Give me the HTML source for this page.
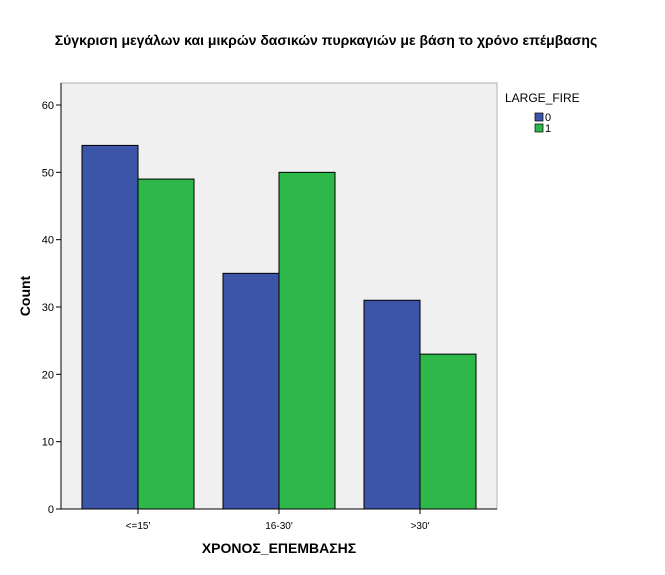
<!DOCTYPE html>
<html><head><meta charset="utf-8"><style>
body{margin:0;background:#fff;font-family:"Liberation Sans",sans-serif;}
svg text{font-family:"Liberation Sans",sans-serif;}
</style></head><body>
<svg width="665" height="570" id="c">
<rect x="0" y="0" width="665" height="570" fill="#fff"/>
<text x="326" y="45" font-size="14" font-weight="bold" text-anchor="middle" fill="#000">Σύγκριση μεγάλων και μικρών δασικών πυρκαγιών με βάση το χρόνο επέμβασης</text>
<rect x="61" y="83" width="436" height="426" fill="#f0f0f0" stroke="#b0b0b0"/>
<g id="bars"></g>
<line x1="61" y1="83" x2="61" y2="509" stroke="#000"/>
<line x1="61" y1="509" x2="497" y2="509" stroke="#000"/>
<g id="yt"></g><g id="xt"></g>
<text x="30" y="296" font-size="14" font-weight="bold" text-anchor="middle" transform="rotate(-90 30 296)">Count</text>
<text x="279" y="553" font-size="14" font-weight="bold" text-anchor="middle">ΧΡΟΝΟΣ_ΕΠΕΜΒΑΣΗΣ</text>
<g>
<text x="505" y="102" font-size="12">LARGE_FIRE</text>
<rect x="535" y="113" width="8" height="8" fill="#3d55a9" stroke="#000" stroke-width="0.7"/>
<text x="545" y="121" font-size="11">0</text>
<rect x="535" y="124" width="8" height="8" fill="#2eb84a" stroke="#000" stroke-width="0.7"/>
<text x="545" y="132" font-size="11">1</text>
</g>
</svg>
<script>
const categories=["<=15'","16-30'",">30'"];
const series0=[54,35,31];
const series1=[49,50,23];
const yTicks=[0,10,20,30,40,50,60];
const ns="http://www.w3.org/2000/svg";
const y0=509,pxPer=(509-105)/60;
function ys(v){return y0-v*pxPer;}
function xc(i){return 138+i*141;}
const bw=56;
const bars=document.getElementById('bars');
function mk(t,a,p){const e=document.createElementNS(ns,t);for(const k in a)e.setAttribute(k,a[k]);p.appendChild(e);return e;}
categories.forEach((c,i)=>{
 [[series0,'#3d55a9',-bw,'0'],[series1,'#2eb84a',0,'1']].forEach(([s,col,off,n])=>{
  const r=mk('rect',{x:xc(i)+off,y:ys(s[i]),width:bw,height:y0-ys(s[i]),fill:col,stroke:'#000','stroke-width':1},bars);
  
  
 });
});
const yt=document.getElementById('yt');
yTicks.forEach(v=>{
 const l=mk('line',{x1:56,x2:61,y1:ys(v),y2:ys(v),stroke:'#000'},yt);
 
 
 const t=mk('text',{x:54,y:ys(v)+4,'font-size':11,'text-anchor':'end'},yt);t.textContent=v;
 
 
});
const xt=document.getElementById('xt');
categories.forEach((c,i)=>{
 const l=mk('line',{x1:xc(i),x2:xc(i),y1:509,y2:514,stroke:'#000'},xt);
 
 
 const t=mk('text',{x:xc(i),y:529,'font-size':10,'text-anchor':'middle'},xt);t.textContent=c;
 
 
});
</script>
</body></html>
